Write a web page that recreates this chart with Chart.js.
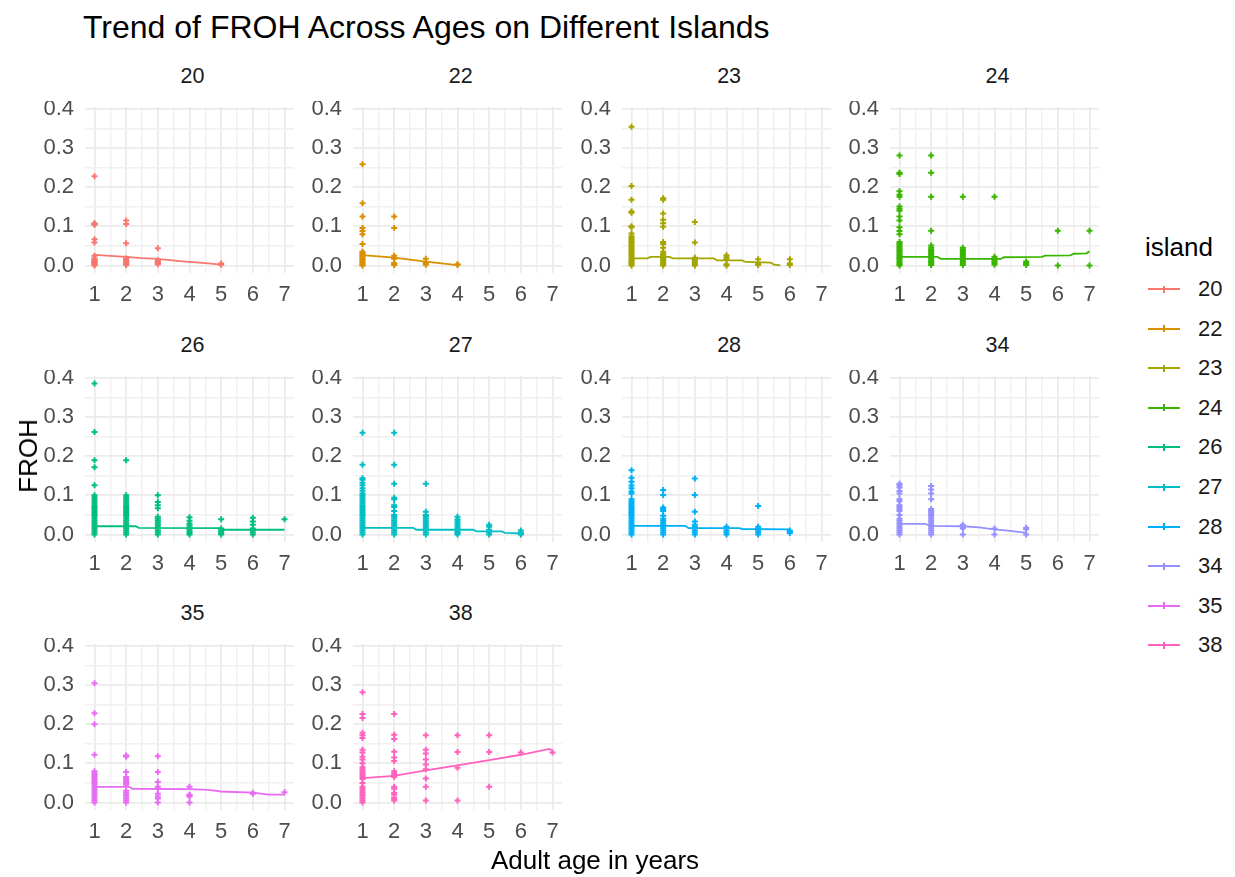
<!DOCTYPE html>
<html>
<head>
<meta charset="utf-8">
<title>Trend of FROH Across Ages on Different Islands</title>
<script src="https://cdn.jsdelivr.net/npm/chart.js@4.4.0/dist/chart.umd.min.js"></script>
<style>
  body { margin: 0; background: #fff; font-family: "Liberation Sans", Arial, sans-serif; }
  #page { position: relative; width: 1235px; height: 877px; overflow: hidden; background: #fff; }
  .txt { position: absolute; white-space: nowrap; line-height: 1; }
  canvas { position: absolute; }
</style>
</head>
<body>
<div id="page"></div>
<script>
// Facets, colours and axis ticks
const islands = ['20', '22', '23', '24', '26', '27', '28', '34', '35', '38'];
const islandColors = ['#F8766D', '#D89000', '#A3A500', '#39B600', '#00BF7D', '#00BFC4', '#00B0F6', '#9590FF', '#E76BF3', '#FF62BC'];
const xMajor = [1, 2, 3, 4, 5, 6, 7];
const xMinor = [1.5, 2.5, 3.5, 4.5, 5.5, 6.5];
const yMajor = [0, 0.1, 0.2, 0.3, 0.4];
const yMinor = [0.05, 0.15, 0.25, 0.35];

// FROH values per island, one list per adult age (index 0 = age 1 ... index 6 = age 7)
const froh20 = [
  [0.228, 0.108, 0.106, 0.104, 0.067, 0.059, 0.025, 0.018, 0.015, 0.012, 0.010, 0.008, 0.006, 0.004, 0.002, 0.000],
  [0.115, 0.106, 0.057, 0.018, 0.015, 0.012, 0.008, 0.005, 0.003, 0.001],
  [0.044, 0.013, 0.010, 0.007, 0.005, 0.003],
  [],
  [0.005, 0.002],
  [], []
];
const froh22 = [
  [0.259, 0.159, 0.125, 0.096, 0.088, 0.080, 0.055, 0.035, 0.032, 0.028, 0.025, 0.022, 0.018, 0.015, 0.012, 0.008, 0.005, 0.002, 0.000],
  [0.125, 0.096, 0.025, 0.017, 0.006, 0.003, 0.001],
  [0.017, 0.008, 0.005, 0.002],
  [0.003, 0.001],
  [], [], []
];
const froh23 = [
  [0.355, 0.203, 0.168, 0.138, 0.135, 0.100, 0.098, 0.082, 0.075, 0.070, 0.066, 0.062, 0.058, 0.054, 0.050, 0.046, 0.042, 0.038, 0.034, 0.030, 0.026, 0.022, 0.018, 0.014, 0.010, 0.006, 0.003, 0.000],
  [0.172, 0.168, 0.133, 0.117, 0.108, 0.099, 0.060, 0.055, 0.045, 0.035, 0.030, 0.026, 0.022, 0.018, 0.014, 0.010, 0.006, 0.003, 0.000],
  [0.111, 0.059, 0.020, 0.016, 0.012, 0.008, 0.004, 0.000],
  [0.026, 0.021, 0.016, 0.003, 0.000],
  [0.016, 0.005, 0.001],
  [0.016, 0.005, 0.001],
  []
];
const froh24 = [
  [0.281, 0.237, 0.234, 0.190, 0.181, 0.176, 0.151, 0.145, 0.140, 0.125, 0.115, 0.098, 0.088, 0.080, 0.060, 0.055, 0.051, 0.047, 0.043, 0.039, 0.035, 0.031, 0.027, 0.023, 0.019, 0.015, 0.011, 0.007, 0.003, 0.000],
  [0.281, 0.237, 0.176, 0.089, 0.051, 0.045, 0.041, 0.037, 0.033, 0.029, 0.025, 0.021, 0.017, 0.013, 0.009, 0.005, 0.001],
  [0.176, 0.045, 0.041, 0.037, 0.033, 0.029, 0.025, 0.021, 0.017, 0.013, 0.009, 0.005, 0.001],
  [0.176, 0.022, 0.018, 0.014, 0.010, 0.006, 0.002],
  [0.010, 0.006, 0.003, 0.001],
  [0.089, 0.000],
  [0.089, 0.000]
];
const froh26 = [
  [0.386, 0.262, 0.190, 0.172, 0.126, 0.100, 0.095, 0.090, 0.085, 0.080, 0.075, 0.070, 0.065, 0.060, 0.055, 0.050, 0.045, 0.040, 0.035, 0.030, 0.025, 0.020, 0.015, 0.010, 0.005, 0.000],
  [0.190, 0.100, 0.095, 0.090, 0.085, 0.080, 0.075, 0.070, 0.065, 0.060, 0.055, 0.050, 0.045, 0.040, 0.035, 0.030, 0.025, 0.020, 0.015, 0.010, 0.005, 0.000],
  [0.100, 0.083, 0.075, 0.067, 0.045, 0.040, 0.035, 0.030, 0.025, 0.020, 0.015, 0.010, 0.005, 0.000],
  [0.044, 0.035, 0.028, 0.023, 0.018, 0.013, 0.008, 0.004, 0.000],
  [0.039, 0.015, 0.011, 0.007, 0.003, 0.000],
  [0.043, 0.033, 0.025, 0.015, 0.010, 0.005, 0.000],
  [0.039]
];
const froh27 = [
  [0.260, 0.178, 0.144, 0.140, 0.132, 0.126, 0.118, 0.112, 0.105, 0.100, 0.095, 0.090, 0.085, 0.080, 0.075, 0.070, 0.065, 0.060, 0.055, 0.050, 0.045, 0.040, 0.035, 0.030, 0.025, 0.020, 0.015, 0.010, 0.005, 0.000],
  [0.260, 0.178, 0.130, 0.094, 0.090, 0.075, 0.070, 0.060, 0.050, 0.045, 0.040, 0.035, 0.030, 0.025, 0.020, 0.015, 0.010, 0.005, 0.000],
  [0.130, 0.058, 0.050, 0.045, 0.040, 0.035, 0.030, 0.025, 0.020, 0.015, 0.010, 0.005, 0.000],
  [0.045, 0.038, 0.033, 0.028, 0.023, 0.018, 0.013, 0.008, 0.004, 0.000],
  [0.025, 0.020, 0.012, 0.005, 0.000],
  [0.010, 0.005, 0.002, 0.000],
  []
];
const froh28 = [
  [0.164, 0.145, 0.135, 0.125, 0.118, 0.110, 0.105, 0.090, 0.085, 0.080, 0.075, 0.070, 0.065, 0.060, 0.055, 0.050, 0.045, 0.040, 0.035, 0.030, 0.025, 0.020, 0.015, 0.010, 0.005, 0.000],
  [0.114, 0.101, 0.069, 0.065, 0.060, 0.048, 0.040, 0.035, 0.030, 0.025, 0.020, 0.015, 0.010, 0.005, 0.000],
  [0.143, 0.101, 0.058, 0.033, 0.025, 0.020, 0.015, 0.010, 0.005, 0.000],
  [0.020, 0.015, 0.010, 0.005, 0.000],
  [0.073, 0.020, 0.015, 0.010, 0.005, 0.000],
  [0.010, 0.007, 0.004],
  []
];
const froh34 = [
  [0.130, 0.125, 0.120, 0.111, 0.105, 0.090, 0.085, 0.075, 0.070, 0.065, 0.060, 0.050, 0.040, 0.035, 0.030, 0.025, 0.020, 0.015, 0.010, 0.005, 0.000],
  [0.124, 0.115, 0.105, 0.090, 0.065, 0.060, 0.055, 0.050, 0.045, 0.040, 0.035, 0.030, 0.025, 0.020, 0.015, 0.010, 0.005, 0.000],
  [0.025, 0.020, 0.015, 0.000],
  [0.015, 0.000],
  [0.017, 0.013, 0.000],
  [], []
];
const froh35 = [
  [0.305, 0.228, 0.200, 0.122, 0.080, 0.075, 0.070, 0.065, 0.060, 0.055, 0.050, 0.045, 0.040, 0.035, 0.030, 0.025, 0.020, 0.015, 0.010, 0.005, 0.000],
  [0.120, 0.117, 0.078, 0.065, 0.060, 0.055, 0.050, 0.045, 0.030, 0.025, 0.020, 0.015, 0.010, 0.005, 0.000],
  [0.118, 0.078, 0.052, 0.040, 0.035, 0.022, 0.015, 0.010, 0.000],
  [0.040, 0.020, 0.018, 0.015, 0.000],
  [],
  [0.025, 0.022],
  [0.026]
];
const froh38 = [
  [0.282, 0.226, 0.216, 0.178, 0.172, 0.165, 0.135, 0.128, 0.117, 0.110, 0.100, 0.090, 0.085, 0.080, 0.075, 0.070, 0.065, 0.060, 0.050, 0.040, 0.035, 0.030, 0.025, 0.020, 0.015, 0.010, 0.005, 0.000],
  [0.226, 0.173, 0.162, 0.130, 0.115, 0.106, 0.080, 0.075, 0.070, 0.065, 0.040, 0.035, 0.025, 0.020, 0.012, 0.008, 0.005],
  [0.172, 0.135, 0.125, 0.110, 0.097, 0.085, 0.061, 0.040, 0.005],
  [0.172, 0.129, 0.089, 0.005],
  [0.172, 0.129, 0.040],
  [0.128],
  [0.128]
];

// Fitted trend per island: [age, FROH]
const fit20 = [[1, 0.027], [2, 0.022], [2.5, 0.019], [3, 0.017], [3.7, 0.011], [4.5, 0.006], [5, 0.002]];
const fit22 = [[1, 0.029], [1.1, 0.026], [2, 0.020], [3, 0.010], [4, 0.001]];
const fit23 = [[1, 0.018], [1.5, 0.018], [1.6, 0.022], [2.2, 0.022], [2.3, 0.018], [3.6, 0.018], [3.7, 0.013], [4.5, 0.013], [4.6, 0.009], [5.4, 0.007], [5.5, 0.002], [5.7, 0.000]];
const fit24 = [[1, 0.022], [2.2, 0.022], [2.3, 0.017], [4.2, 0.017], [4.3, 0.021], [5.5, 0.022], [5.6, 0.025], [6.4, 0.026], [6.5, 0.030], [6.9, 0.031], [7, 0.036]];
const fit26 = [[1, 0.021], [2.3, 0.021], [2.4, 0.017], [5, 0.016], [5.1, 0.012], [7, 0.012]];
const fit27 = [[1, 0.019], [1.1, 0.017], [2.6, 0.017], [2.7, 0.012], [4.5, 0.012], [4.6, 0.008], [5.4, 0.008], [5.5, 0.004], [6, 0.003]];
const fit28 = [[1, 0.022], [2.7, 0.022], [2.8, 0.016], [4.4, 0.016], [4.5, 0.014], [6, 0.013]];
const fit34 = [[1, 0.027], [1.8, 0.027], [2, 0.022], [3, 0.021], [3.5, 0.018], [4, 0.013], [4.5, 0.009], [5, 0.004]];
const fit35 = [[1, 0.040], [2.1, 0.040], [2.2, 0.035], [4, 0.034], [4.6, 0.032], [5, 0.028], [6, 0.025], [6.5, 0.020], [7, 0.020]];
const fit38 = [[1, 0.062], [2, 0.068], [3, 0.082], [4, 0.095], [5, 0.108], [6, 0.122], [6.9, 0.137], [7, 0.133]];

const frohByIsland = [froh20, froh22, froh23, froh24, froh26, froh27, froh28, froh34, froh35, froh38];
const fitByIsland = [fit20, fit22, fit23, fit24, fit26, fit27, fit28, fit34, fit35, fit38];

// Layout of the facet grid
const FONT = '"Liberation Sans", Arial, sans-serif';
const PANEL_W = 215, PANEL_H = 172;
const Y_AXIS_W = 50, X_AXIS_H = 40;
const colLeft = c => 85 + c * 268.3;
const rowTop = r => 101 + r * 268.5;

const page = document.getElementById('page');

function addText(text, x, y, size, color, opts = {}) {
  const el = document.createElement('div');
  el.className = 'txt';
  el.textContent = text;
  el.style.fontSize = size + 'px';
  el.style.color = color;
  el.style.left = x + 'px';
  el.style.top = y + 'px';
  let tf = opts.anchor === 'left' ? 'translate(0,-50%)' : 'translate(-50%,-50%)';
  if (opts.rotate) tf += ' rotate(' + opts.rotate + 'deg)';
  el.style.transform = tf;
  page.appendChild(el);
  return el;
}

// shared axis range, expanded 5% like ggplot
const allValues = frohByIsland.flat(2);
const yHi = Math.max(...allValues);
const yMin = -0.05 * yHi, yMax = yHi * 1.05;
const xMin = 0.7, xMax = 7.3;
const xTicks = [...xMajor, ...xMinor].sort((a, b) => a - b);
const yTicks = [...yMajor, ...yMinor].sort((a, b) => a - b);

function makePanel(i) {
  const col = i % 4, row = Math.floor(i / 4);
  const left = colLeft(col), top = rowTop(row);
  const color = islandColors[i];

  const canvas = document.createElement('canvas');
  canvas.width = Y_AXIS_W + PANEL_W;
  canvas.height = PANEL_H + X_AXIS_H;
  canvas.style.left = (left - Y_AXIS_W) + 'px';
  canvas.style.top = top + 'px';
  page.appendChild(canvas);

  addText(islands[i], left + PANEL_W / 2, top - 24, 21.5, '#1A1A1A');

  const points = [];
  frohByIsland[i].forEach((vals, a) => vals.forEach(v => points.push({ x: a + 1, y: v })));
  const trend = fitByIsland[i].map(p => ({ x: p[0], y: p[1] }));

  const gridColor = major => ctx => ctx.tick && major.includes(ctx.tick.value) ? '#EBEBEB' : '#F0F0F0';
  const gridWidth = major => ctx => ctx.tick && major.includes(ctx.tick.value) ? 1.8 : 1.4;

  new Chart(canvas, {
    type: 'scatter',
    data: {
      datasets: [
        { data: trend, showLine: true, borderColor: color, borderWidth: 1.8, pointRadius: 0, fill: false },
        { data: points, pointStyle: 'cross', pointRadius: 3, pointBorderWidth: 2, pointBorderColor: color, pointBackgroundColor: color, borderColor: color }
      ]
    },
    options: {
      responsive: false,
      animation: false,
      devicePixelRatio: 1,
      events: [],
      layout: { padding: 0 },
      plugins: { legend: { display: false }, tooltip: { enabled: false } },
      scales: {
        x: {
          type: 'linear', min: xMin, max: xMax,
          afterBuildTicks: s => { s.ticks = xTicks.map(v => ({ value: v })); },
          afterFit: s => { s.height = X_AXIS_H; s.paddingLeft = 0; s.paddingRight = 0; },
          ticks: {
            autoSkip: false, maxRotation: 0, padding: 9, color: '#4D4D4D',
            font: { family: FONT, size: 22 },
            callback: v => xMajor.includes(v) ? String(v) : ''
          },
          grid: { drawTicks: false, color: gridColor(xMajor), lineWidth: gridWidth(xMajor) },
          border: { display: false }
        },
        y: {
          type: 'linear', min: yMin, max: yMax,
          afterBuildTicks: s => { s.ticks = yTicks.map(v => ({ value: v })); },
          afterFit: s => { s.width = Y_AXIS_W; s.paddingTop = 0; s.paddingBottom = 0; },
          ticks: {
            autoSkip: false, padding: 11, color: '#4D4D4D',
            font: { family: FONT, size: 22 },
            callback: v => yMajor.includes(v) ? v.toFixed(1) : ''
          },
          grid: { drawTicks: false, color: gridColor(yMajor), lineWidth: gridWidth(yMajor) },
          border: { display: false }
        }
      }
    }
  });
}

islands.forEach((_, i) => makePanel(i));

// Titles
addText('Trend of FROH Across Ages on Different Islands', 83, 27, 32, '#000', { anchor: 'left' });
addText('Adult age in years', 595, 860, 26, '#000');
addText('FROH', 28, 456, 26, '#000', { rotate: -90 });

// Legend
addText('island', 1145, 247, 26, '#000', { anchor: 'left' });
islands.forEach((name, i) => {
  const y = 289 + i * 39.6;
  const line = document.createElement('div');
  line.style.cssText = `position:absolute;left:1148px;top:${y - 1}px;width:32px;height:2px;background:${islandColors[i]};`;
  page.appendChild(line);
  const tick = document.createElement('div');
  tick.style.cssText = `position:absolute;left:${1164 - 1}px;top:${y - 3.5}px;width:2px;height:7px;background:${islandColors[i]};`;
  page.appendChild(tick);
  addText(name, 1198, y, 22, '#1A1A1A', { anchor: 'left' });
});
</script>
</body>
</html>
